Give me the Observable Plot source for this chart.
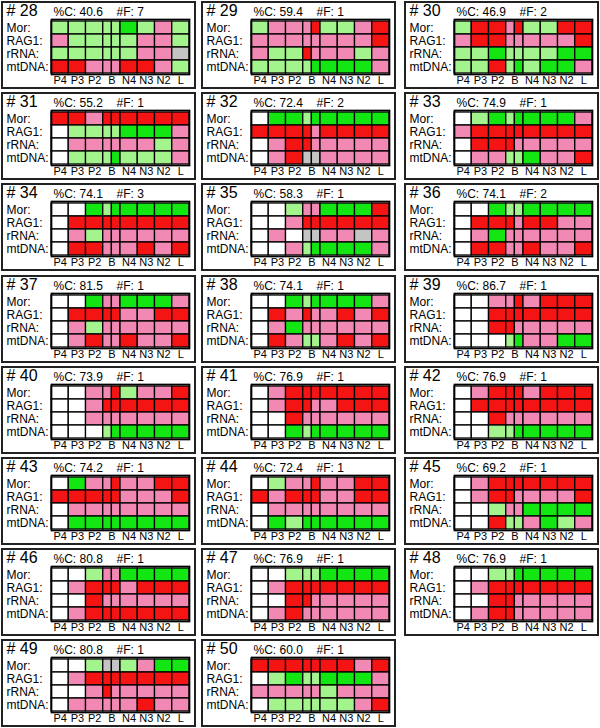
<!DOCTYPE html>
<html>
<head>
<meta charset="utf-8">
<script src="https://cdn.jsdelivr.net/npm/d3@7"></script>
<script src="https://cdn.jsdelivr.net/npm/@observablehq/plot@0.6"></script>
<style>
  html, body { margin: 0; padding: 0; background: #fff; }
  #wrap { position: relative; width: 600px; height: 728px; overflow: hidden; }
  .panel { position: absolute; width: 195px; height: 88px; border: 2px solid #222; box-sizing: border-box; background: #fff; }
  .panel svg { display: block; }
</style>
</head>
<body>
<div id="wrap"></div>
<script>
// ---------- data ----------
const panelIds = [28, 29, 30, 31, 32, 33, 34, 35, 36, 37, 38, 39, 40, 41, 42, 43, 44, 45, 46, 47, 48, 49, 50];
const pctC = ["40.6", "59.4", "46.9", "55.2", "72.4", "74.9", "74.1", "58.3", "74.1", "81.5", "74.1", "86.7", "73.9", "76.9", "76.9", "74.2", "72.4", "69.2", "80.8", "76.9", "76.9", "80.8", "60.0"];
const numF = [7, 1, 2, 1, 2, 1, 3, 1, 2, 1, 1, 1, 1, 1, 1, 1, 1, 1, 1, 1, 1, 1, 1];
const rowLabels = ["Mor:", "RAG1:", "rRNA:", "mtDNA:"];
const colLabels = ["P4", "P3", "P2", "B", "N4", "N3", "N2", "L"];
const cellCols = ["P4", "P3", "P2", "B1", "B2", "N4", "N3", "N2", "L"];
// codes: w = white (missing), g = light green, G = green, p = pink, R = red, x = grey
const morCells = ["gggggGgpg", "gpppRggpR", "gRRpRggRR", "RRpRRRRRR", "wGGgGGGGG", "wgGgGGGGp", "wwGgGGGGG", "wwgppGGGR", "wwGggGGGG", "wwGppGGGp", "wwGgGGGGp", "wwppRpRRR", "wwppRgppR", "wpRRRRRRR", "wpRRRpRRR", "wGppRppRR", "wgppRppRR", "wpRRRRRRR", "wwgppGGGG", "wwgggGGGG", "wwggGGGGG", "wwgxxgpGG", "RRRRRRRpR"];
const rag1Cells = ["pgggggppg", "ppppppppR", "pRRpppppR", "wggggGGGp", "RRRRpRRRR", "pRRRRRRRR", "wRRRRRRRR", "wwpRRRRRR", "wRRRpRRpp", "wRRRRppRR", "wRpRppRpR", "wwRRRRRRR", "wwpRRRRRR", "wpRRppRRR", "wRRRRRRRR", "RRRRRpppR", "RpRRRppRR", "wpRRppppR", "wpRRRpRRR", "wpRRRRRRR", "wpRRRRRRR", "wpRRRRRRR", "wgGggGGGp"];
const rrnaCells = ["ggggggppx", "pggRpppgp", "ggGggggGG", "wppppppgp", "wpRRppppp", "wRRRppppp", "wpgpppppp", "wpwxxppxp", "wpGpppppp", "wpgpppppp", "wpGpppppp", "wwRRppppp", "wwppppppp", "wwRpppppp", "wwRpppppp", "wpppppppp", "wpppppppp", "wwgppGGGG", "wwRpppppp", "wwRRppppp", "wwRRppppp", "wwpRppppp", "pppppgppp"];
const mtdnaCells = ["RRpppRRpg", "ggggGGGGp", "ggRgGgGGp", "wgggGgggp", "wpRxxpppp", "wppggGppR", "wRRpppRpR", "wwpgGGGGp", "wRRppRppR", "wpRppRppR", "wRpggpRpR", "wwwgGppGG", "wwwgGGGGG", "wwGgGGGGG", "wwggGGGGG", "wGGGGGGGG", "wGgGGGGGG", "wwRggpGgp", "wpRRRRRRR", "wpRpppppp", "wpRRppppp", "wpppppRpp", "wggggggpR"];

// ---------- style / layout ----------
const codeDomain = ["w", "g", "G", "p", "R", "x"];
const codeColors = ["#ffffff", "#a4f48e", "#14e614", "#f288b4", "#f51414", "#c4c4c4"];
const colWidths = [2, 2, 2, 1, 1, 2, 2, 2, 2];
const colEdges = [0];
colWidths.forEach(w => colEdges.push(colEdges[colEdges.length - 1] + w));
const labelCenters = [1, 3, 5, 7, 9, 11, 13, 15];
const font = "'Liberation Sans', Arial, Helvetica, sans-serif";
const colLeft = [1, 201, 404];

const wrap = document.getElementById("wrap");
const rowsData = [morCells, rag1Cells, rrnaCells, mtdnaCells];

panelIds.forEach((id, k) => {
  const cells = [];
  rowsData.forEach((arr, r) => {
    arr[k].split("").forEach((code, c) => {
      cells.push({row: rowLabels[r], x1: colEdges[c], x2: colEdges[c + 1], code, col: cellCols[c]});
    });
  });
  const chart = Plot.plot({
    width: 191,
    height: 84,
    marginLeft: 48,
    marginRight: 5,
    marginTop: 16,
    marginBottom: 13,
    x: {domain: [0, colEdges[colEdges.length - 1]], axis: null},
    y: {type: "band", domain: rowLabels, padding: 0, axis: null},
    color: {type: "ordinal", domain: codeDomain, range: codeColors},
    style: {fontFamily: font, fontSize: "12px", color: "#000", background: "#fff", overflow: "visible"},
    marks: [
      Plot.barX(cells, {x1: "x1", x2: "x2", y: "row", fill: "code", stroke: "#000", strokeWidth: 1.3}),
      Plot.frame({stroke: "#000", strokeWidth: 1.7}),
      Plot.text(rowLabels, {y: d => d, text: d => d, frameAnchor: "left", textAnchor: "start", dx: -45, fill: "#000", fontSize: 12}),
      Plot.text(colLabels, {x: (d, i) => labelCenters[i], text: d => d, frameAnchor: "bottom", lineAnchor: "top", dy: 2, fill: "#000", fontSize: 11}),
      Plot.text([id], {text: d => "# " + d, frameAnchor: "top-left", textAnchor: "start", lineAnchor: "bottom", dx: -45, dy: -4, fontSize: 16, fill: "#000"}),
      Plot.text([pctC[k]], {text: d => "%C: " + d, frameAnchor: "top-left", textAnchor: "start", lineAnchor: "bottom", dx: 2, dy: -4, fontSize: 12, fill: "#000"}),
      Plot.text([numF[k]], {text: d => "#F: " + d, frameAnchor: "top-left", textAnchor: "start", lineAnchor: "bottom", dx: 65, dy: -4, fontSize: 12, fill: "#000"})
    ]
  });
  const div = document.createElement("div");
  div.className = "panel";
  const col = k % 3, row = Math.floor(k / 3);
  div.style.left = colLeft[col] + "px";
  div.style.top = Math.round(1 + row * 91.2) + "px";
  div.appendChild(chart);
  wrap.appendChild(div);
});
</script>
</body>
</html>
